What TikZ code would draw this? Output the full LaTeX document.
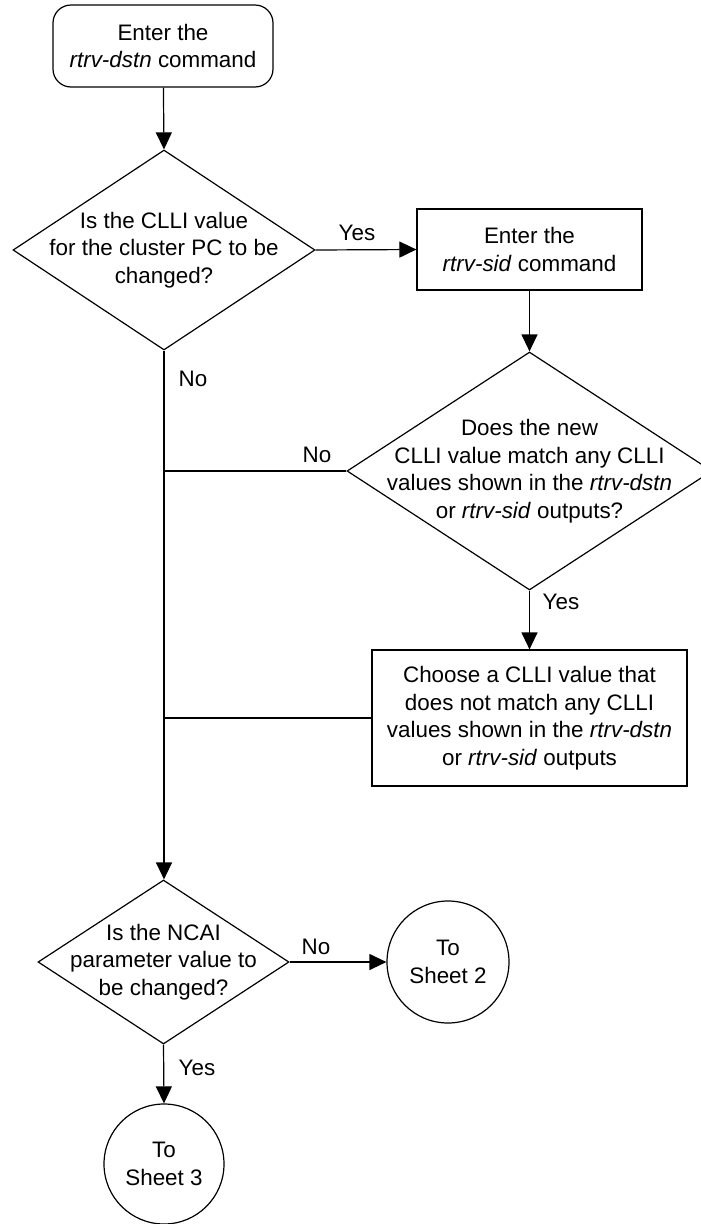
\documentclass[tikz,border=0pt]{standalone}
\usepackage{fontspec}
\setmainfont{Liberation Sans}
\usetikzlibrary{shapes.geometric,arrows.meta}
\begin{document}
\begin{tikzpicture}[x=1pt,y=-1pt,
  every node/.style={font=\fontsize{22.4}{27.5}\selectfont, text=black},
  line/.style={draw=black, line width=1.2pt},
  arr/.style={line, -{Triangle[length=17pt,width=16pt]}},
  txt/.style={align=center, inner sep=0pt},
  startbox/.style={line, rectangle, rounded corners=18pt, minimum width=220pt, minimum height=82pt, align=center, inner sep=0pt},
  procbox/.style={line, rectangle, align=center, inner sep=0pt},
  dia/.style={line, diamond, inner sep=0pt},
  conn/.style={line, circle, inner sep=0pt, align=center},
  lbl/.style={inner sep=0pt}]
\useasboundingbox (0,0) rectangle (701,1224);
\clip (0,0) rectangle (701,1224);

\node[startbox] (start) at (163,46) {Enter the\\\textit{rtrv-dstn} command};

\node[dia, minimum width=302pt, minimum height=200pt] (d1) at (164,250) {};
\node[txt] (d1t) at (d1.center) {Is the CLLI value\\for the cluster PC to be\\changed?};

\node[procbox, minimum width=225pt, minimum height=81pt] (sid) at (529.5,249.5) {Enter the\\\textit{rtrv-sid} command};

\node[dia, minimum width=365pt, minimum height=238pt] (d2) at (529.5,471) {};
\node[txt] (d2t) at (d2.center) {Does the new\\CLLI value match any CLLI\\values shown in the \textit{rtrv-dstn}\\or \textit{rtrv-sid} outputs?};

\node[procbox, minimum width=315pt, minimum height=136pt] (choose) at (529.5,718) {Choose a CLLI value that\\does not match any CLLI\\values shown in the \textit{rtrv-dstn}\\or \textit{rtrv-sid} outputs};

\node[dia, minimum width=251pt, minimum height=164pt] (d3) at (163.5,962) {};
\node[txt] (d3t) at (d3.center) {Is the NCAI\\parameter value to\\be changed?};

\node[conn, minimum size=122pt] (s2) at (448,962) {To\\Sheet 2};
\node[conn, minimum size=120pt] (s3) at (164,1164) {To\\Sheet 3};

\coordinate (j1) at (d2.west -| d1.south);
\coordinate (j2) at (choose.west -| d1.south);

\draw[arr] (start) -- (d1.north);
\draw[arr] (d1.east) -- (sid.west);
\draw[arr] (sid.south) -- (d2.north);
\draw[arr] (d2.south) -- (choose.north);
\draw[line] (d2.west) -- (j1);
\draw[line] (choose.west) -- (j2);
\draw[arr] (d1.south) -- (d1.south |- d3.north);
\draw[arr] (d3.east) -- (s2.west);
\draw[arr] (d3.south) -- (s3.north);

\node[lbl] (l1) at (357,233) {Yes};
\node[lbl] (l2) at (193,379) {No};
\node[lbl] (l3) at (317,455) {No};
\node[lbl] (l4) at (561,602) {Yes};
\node[lbl] (l5) at (316,947) {No};
\node[lbl] (l6) at (197,1068) {Yes};
\end{tikzpicture}
\end{document}
